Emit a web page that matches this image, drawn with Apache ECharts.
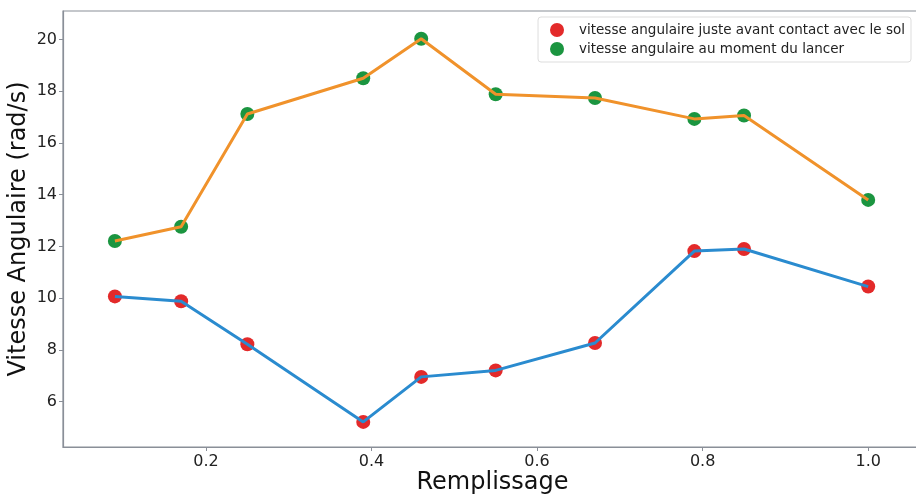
<!DOCTYPE html>
<html>
<head>
<meta charset="utf-8">
<script src="https://cdn.jsdelivr.net/npm/echarts@6/dist/echarts.min.js"></script>
<style>html,body{margin:0;padding:0;background:#fff}#c{width:916px;height:495px}</style>
</head>
<body>
<div id="c"></div>
<script>
const remplissage = [0.09, 0.17, 0.25, 0.39, 0.46, 0.55, 0.67, 0.79, 0.85, 1.0];
const vitesseSol = [10.07, 9.88, 8.22, 5.22, 6.96, 7.21, 8.27, 11.82, 11.9, 10.45];
const vitesseLancer = [12.21, 12.76, 17.12, 18.5, 20.03, 17.88, 17.74, 16.93, 17.06, 13.8];
const yTicks = [6, 8, 10, 12, 14, 16, 18, 20];
const xTicks = [0.2, 0.4, 0.6, 0.8, 1.0];
const nomSol = 'vitesse angulaire juste avant contact avec le sol';
const nomLancer = 'vitesse angulaire au moment du lancer';

const pairs = (xs, ys) => xs.map((x, i) => [x, ys[i]]);
const font = 'DejaVu Sans';
const chart = echarts.init(document.getElementById('c'), null, {renderer: 'canvas'});
chart.setOption({
  animation: false,
  backgroundColor: '#ffffff',
  grid: {left: 63, top: 11, right: -6, bottom: 48, show: true, outerBoundsMode: 'none', containLabel: false,
    borderColor: '#8a8f98', borderWidth: 1.2, backgroundColor: 'transparent'},
  legend: {
    orient: 'vertical', right: 5, top: 17,
    itemWidth: 14, itemHeight: 14, itemGap: 5,
    padding: [6, 6, 6, 12],
    borderColor: '#dddddd', borderWidth: 1, borderRadius: 3,
    textStyle: {fontFamily: font, fontSize: 13.5, color: '#222', padding: [0, 0, 0, 10]},
    data: [{name: nomSol, icon: 'circle'}, {name: nomLancer, icon: 'circle'}]
  },
  xAxis: {
    type: 'value', min: 0.0273, max: 1.065,
    name: 'Remplissage', nameLocation: 'middle', nameGap: 24, nameMoveOverlap: false,
    nameTextStyle: {fontFamily: font, fontSize: 24, color: '#111', verticalAlign: 'top'},
    axisLine: {show: true, lineStyle: {color: '#8a8f98', width: 1.2}},
    axisTick: {show: true, length: 4, lineStyle: {color: '#8a8f98'}, customValues: xTicks},
    axisLabel: {fontFamily: font, fontSize: 16, color: '#222', margin: 7, customValues: xTicks,
      formatter: v => v.toFixed(1)},
    splitLine: {show: false}
  },
  yAxis: {
    type: 'value', min: 4.25, max: 21.1,
    name: 'Vitesse Angulaire (rad/s)', nameLocation: 'middle', nameGap: 32, nameMoveOverlap: false,
    nameTextStyle: {fontFamily: font, fontSize: 24, color: '#111'},
    axisLine: {show: true, lineStyle: {color: '#8a8f98', width: 1.2}},
    axisTick: {show: true, length: 4, lineStyle: {color: '#8a8f98'}, customValues: yTicks},
    axisLabel: {fontFamily: font, fontSize: 16, color: '#222', margin: 6, customValues: yTicks},
    splitLine: {show: false}
  },
  series: [
    {name: nomSol, type: 'scatter', data: pairs(remplissage, vitesseSol), symbolSize: 14, itemStyle: {color: '#e32a2a', opacity: 1}, z: 2},
    {name: nomLancer, type: 'scatter', data: pairs(remplissage, vitesseLancer), symbolSize: 14, itemStyle: {color: '#1b9540', opacity: 1}, z: 2},
    {name: 'ligneSol', type: 'line', data: pairs(remplissage, vitesseSol), showSymbol: false, lineStyle: {color: '#2a8bcf', width: 3}, z: 3},
    {name: 'ligneLancer', type: 'line', data: pairs(remplissage, vitesseLancer), showSymbol: false, lineStyle: {color: '#f0922b', width: 3}, z: 3}
  ]
});
</script>
</body>
</html>
